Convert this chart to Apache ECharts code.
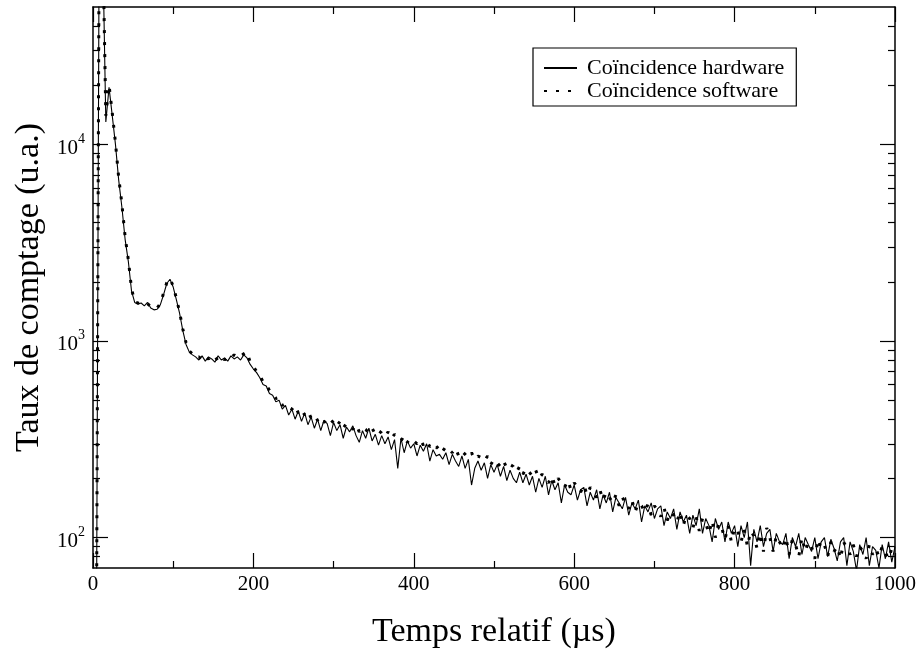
<!DOCTYPE html>
<html>
<head>
<meta charset="utf-8">
<script src="https://cdn.jsdelivr.net/npm/echarts@6/dist/echarts.min.js"></script>
<style>
  html, body { margin: 0; padding: 0; background: #fff; }
  #chart { width: 921px; height: 655px; }
</style>
</head>
<body>
<div id="chart"></div>
<script>
// pas d'échantillonnage (µs)
const pasTemps = 4;

// Coïncidence hardware, un point tous les 4 µs de 0 à 1000 µs
const comptageHardware = [
  10, 15, 250000, 110000, 13000, 19500, 14000, 10000, 6600, 4800,
  3300, 2550, 1800, 1570, 1540, 1560, 1510, 1570, 1470, 1440,
  1450, 1530, 1720, 1960, 2060, 1880, 1620, 1380, 1130, 960,
  880, 850, 830, 800, 840, 790, 830, 810, 780, 840,
  800, 820, 790, 840, 810, 830, 800, 850, 820, 760,
  720, 690, 650, 600, 590, 540, 530, 490, 500, 450,
  470, 420, 450, 400, 440, 390, 430, 375, 410, 360,
  400, 350, 395, 380, 330, 385, 350, 375, 320, 365,
  345, 370, 330, 305, 350, 320, 360, 310, 335, 295,
  330, 300, 325, 280, 315, 225, 320, 270, 310, 285,
  300, 260, 295, 275, 300, 245, 280, 260, 265, 250,
  270, 235, 265, 245, 230, 260, 225, 250, 185, 225,
  245, 220, 240, 200, 235, 215, 235, 205, 230, 195,
  220, 200, 190, 215, 190, 210, 185, 205, 170, 200,
  180, 205, 165, 195, 175, 190, 150, 185, 170, 165,
  185, 155, 175, 180, 145, 170, 155, 175, 140, 165,
  150, 170, 135, 160, 150, 140, 160, 130, 150, 140,
  155, 120, 145, 135, 150, 125, 140, 145, 115, 135,
  125, 140, 110, 135, 120, 130, 105, 130, 115, 140,
  105, 125, 115, 95, 125, 110, 120, 95, 120, 105,
  115, 90, 115, 100, 120, 72, 110, 95, 115, 90,
  105, 110, 85, 105, 95, 92, 105, 78, 100, 90,
  105, 82, 100, 92, 85, 100, 78, 95, 100, 80,
  98, 88, 76, 95, 100, 72, 95, 85, 68, 92,
  82, 100, 72, 90, 86, 70, 92, 78, 95, 75,
  90
];

// Coïncidence software, même grille
const comptageSoftware = [
  10, 15, 260000, 120000, 14000, 20000, 14500, 10200, 6800, 5000,
  3400, 2600, 1850, 1580, 1560, 1540, 1530, 1550, 1490, 1460,
  1470, 1550, 1750, 1980, 2080, 1900, 1650, 1400, 1150, 980,
  890, 860, 820, 830, 800, 835, 810, 840, 800, 820,
  845, 800, 830, 815, 850, 820, 840, 860, 880, 780,
  740, 700, 670, 620, 600, 560, 545, 510, 515, 470,
  480, 460, 450, 470, 430, 450, 420, 440, 405, 420,
  395, 410, 385, 400, 380, 395, 370, 390, 360, 380,
  370, 355, 375, 345, 365, 355, 340, 360, 335, 350,
  340, 325, 345, 320, 335, 325, 310, 330, 305, 320,
  310, 300, 315, 295, 310, 290, 300, 285, 295, 275,
  290, 280, 270, 285, 260, 275, 265, 255, 270, 250,
  260, 255, 245, 260, 235, 250, 240, 230, 245, 225,
  235, 230, 215, 230, 210, 225, 215, 205, 220, 200,
  210, 200, 190, 205, 185, 200, 190, 180, 195, 175,
  190, 180, 170, 185, 165, 180, 170, 160, 175, 155,
  170, 160, 150, 165, 145, 160, 150, 140, 155, 135,
  150, 145, 135, 148, 130, 145, 138, 128, 142, 122,
  135, 130, 120, 135, 115, 130, 125, 112, 128, 108,
  125, 118, 105, 122, 100, 118, 112, 98, 115, 95,
  112, 108, 95, 110, 90, 108, 102, 88, 105, 85,
  112, 100, 85, 102, 95, 88, 100, 82, 98, 92,
  80, 100, 85, 95, 90, 78, 98, 88, 92, 80,
  95, 85, 90, 78, 95, 88, 82, 92, 80, 90,
  85, 78, 92, 82, 88, 80, 90, 84, 78, 88,
  85
];

const ticksMajeursY = [100, 1000, 10000];
const ticksMineursY = [80, 90, 200, 300, 400, 500, 600, 700, 800, 900,
  2000, 3000, 4000, 5000, 6000, 7000, 8000, 9000, 20000, 30000, 40000];

const police = 'Liberation Serif';
const hw = comptageHardware.map((v, i) => [i * pasTemps, v]);
const sw = comptageSoftware.map((v, i) => [i * pasTemps, v]);

const puissance = v => {
  const e = Math.round(Math.log10(v));
  return '{b|10}{e|' + e + '}';
};

const axeX = (pos, labels) => ({
  type: 'value', position: pos, min: 0, max: 1000, interval: 200,
  axisLine: { show: true, onZero: false, lineStyle: { color: '#000', width: 1.5 } },
  axisTick: { inside: true, length: 15, lineStyle: { color: '#000', width: 1.2 } },
  minorTick: { show: true, splitNumber: 2, length: 7, lineStyle: { color: '#000', width: 1.2 } },
  axisLabel: { show: labels, color: '#000', fontFamily: police, fontSize: 21, margin: 6, formatter: v => String(v) },
  splitLine: { show: false },
  name: labels ? 'Temps relatif (µs)' : '', nameLocation: 'middle', nameGap: 47,
  nameTextStyle: { color: '#000', fontFamily: police, fontSize: 34 }
});

const axeY = (pos, majeur, labels) => ({
  type: 'log', logBase: 10, position: pos, min: 70, max: 50000,
  axisLine: { show: majeur, onZero: false, lineStyle: { color: '#000', width: 1.5 } },
  axisTick: {
    inside: true, length: majeur ? 15 : 7,
    customValues: majeur ? ticksMajeursY : ticksMineursY,
    lineStyle: { color: '#000', width: 1.2 }
  },
  axisLabel: {
    show: labels, customValues: ticksMajeursY, formatter: puissance, margin: 8,
    rich: {
      b: { color: '#000', fontFamily: police, fontSize: 21, padding: [8, 0, 0, 0] },
      e: { color: '#000', fontFamily: police, fontSize: 14, verticalAlign: 'top', padding: [2, 0, 0, 0] }
    }
  },
  splitLine: { show: false },
  name: labels ? 'Taux de comptage (u.a.)' : '', nameLocation: 'middle', nameGap: 45,
  nameTextStyle: { color: '#000', fontFamily: police, fontSize: 34 }
});

const chart = echarts.init(document.getElementById('chart'));
chart.setOption({
  animation: false,
  backgroundColor: '#fff',
  grid: { left: 93, right: 26, top: 7, bottom: 87, containLabel: false },
  xAxis: [axeX('bottom', true), axeX('top', false)],
  yAxis: [axeY('left', true, true), axeY('left', false, false), axeY('right', true, false), axeY('right', false, false)],
  legend: {
    left: 533, top: 48, orient: 'vertical',
    borderColor: '#000', borderWidth: 1.2, padding: [9, 12, 4, 10], itemGap: 1,
    itemWidth: 33, itemHeight: 14,
    itemStyle: { opacity: 0 },
    textStyle: { color: '#000', fontFamily: police, fontSize: 22, padding: [0, 0, 0, 5] },
    data: ['Coïncidence hardware', 'Coïncidence software']
  },
  series: [
    {
      name: 'Coïncidence hardware', type: 'line', data: hw,
      xAxisIndex: 0, yAxisIndex: 0, symbol: 'none', clip: true,
      lineStyle: { color: '#000', width: 1.1 }, itemStyle: { color: '#000' }
    },
    {
      name: 'Coïncidence software', type: 'line', data: sw,
      xAxisIndex: 0, yAxisIndex: 0, symbol: 'none', clip: true,
      lineStyle: { color: '#000', width: 3, type: [3, 9], cap: 'butt' }, itemStyle: { color: '#000' }
    }
  ]
});
</script>
</body>
</html>
